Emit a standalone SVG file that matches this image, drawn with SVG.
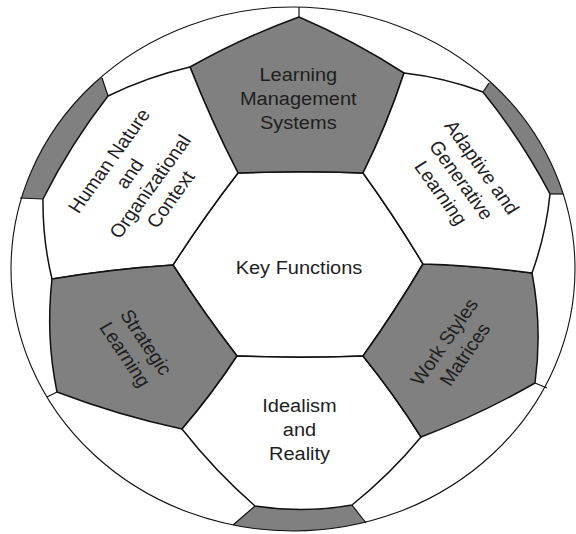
<svg xmlns="http://www.w3.org/2000/svg" width="576" height="534" viewBox="0 0 576 534">
  <style>
    .white { fill: #ffffff; stroke: #111111; stroke-width: 1.5; stroke-linejoin: round; }
    .grey { fill: #808080; stroke: #111111; stroke-width: 1.5; stroke-linejoin: round; }
    .band { fill: #808080; stroke: none; }
    .seam { fill: none; stroke: #111111; stroke-width: 1.2; }
    .rim { fill: none; stroke: #111111; stroke-width: 1.1; }
    .lbl { font-family: "Liberation Sans", Arial, Helvetica, sans-serif; font-size: 18.6px; fill: #1e1e1e; text-anchor: middle; }
  </style>
  <defs>
    <clipPath id="ball">
      <ellipse cx="293" cy="269" rx="282" ry="262"/>
    </clipPath>
  </defs>

  <!-- ball body -->
  <ellipse cx="293" cy="269" rx="282" ry="262" fill="#ffffff"/>

  <!-- outer panels cut by the rim -->
  <g id="outer-panels" clip-path="url(#ball)">
    <path class="band" d="M108,96 Q70.4,144.3 43,199 L-3,197 L94,54 Z"/>
    <path class="band" d="M483,92 Q521.5,139.7 550,194 L600,194 L600,100 L501,65 Z"/>
    <path class="band" d="M255,506 Q303.5,513.5 352,505 L382,544 L210,545 Z"/>
  </g>

  <!-- centre panel -->
  <g id="key-functions">
    <path class="white" d="M238,173 Q300.5,170.6 363,173 Q395,217.2 423,264 Q395,311.3 363,356 Q300,358.4 237,356 Q203,311.9 173,265 Q203.5,217.6 238,173 Z"/>
    <g transform="translate(299 0) scale(1.076 1)">
      <text class="lbl" x="0" y="274">Key Functions</text>
    </g>
  </g>

  <g id="learning-management-systems">
    <path class="grey" d="M238,173 Q300.5,170.6 363,173 Q387.2,124.5 404,73 Q353.9,40.6 299,17 Q242.4,37.5 190,67 Q211.3,121.2 238,173 Z"/>
    <g transform="translate(298.3 0) scale(1.076 1)">
      <text class="lbl"><tspan x="0" y="81">Learning</tspan><tspan x="0" y="105">Management</tspan><tspan x="0" y="129">Systems</tspan></text>
    </g>
  </g>

  <g id="human-nature">
    <path class="white" d="M238,173 Q211.3,121.2 190,67 Q147.3,76.8 108,96 Q70.4,144.3 43,199 Q42.5,239.6 52,279 Q112.2,269 173,265 Q203.5,217.6 238,173 Z"/>
    <g transform="translate(139.7 180) scale(1.076 1) rotate(-56)">
      <text class="lbl"><tspan x="0" y="-28">Human Nature</tspan><tspan x="0" y="-5">and</tspan><tspan x="0" y="18">Organizational</tspan><tspan x="0" y="41">Context</tspan></text>
    </g>
  </g>

  <g id="strategic-learning">
    <path class="grey" d="M173,265 Q112.2,269 52,279 Q45.5,336 57,392 Q118.1,415.3 182,429 Q211.9,394.3 237,356 Q203,311.9 173,265 Z"/>
    <g transform="translate(135.8 348.3) scale(1.076 1) rotate(58)">
      <text class="lbl"><tspan x="0" y="-5">Strategic</tspan><tspan x="0" y="18">Learning</tspan></text>
    </g>
  </g>

  <g id="idealism-reality">
    <path class="white" d="M237,356 Q211.9,394.3 182,429 Q214.9,470.9 255,506 Q303.5,513.5 352,505 Q390,474.6 421,437 Q394.4,394.8 363,356 Q300,358.4 237,356 Z"/>
    <g transform="translate(299.5 0) scale(1.076 1)">
      <text class="lbl"><tspan x="0" y="412">Idealism</tspan><tspan x="0" y="436">and</tspan><tspan x="0" y="460">Reality</tspan></text>
    </g>
  </g>

  <g id="work-styles-matrices">
    <path class="grey" d="M363,356 Q395,311.3 423,264 Q477.7,265.5 532,273 Q542.5,327.8 535,383 Q480.1,414.5 421,437 Q394.4,394.8 363,356 Z"/>
    <g transform="translate(454.5 348) scale(1.076 1) rotate(-57)">
      <text class="lbl"><tspan x="0" y="-5">Work Styles</tspan><tspan x="0" y="18">Matrices</tspan></text>
    </g>
  </g>

  <g id="adaptive-generative-learning">
    <path class="white" d="M363,173 Q387.2,124.5 404,73 Q444.7,77.6 483,92 Q521.5,139.7 550,194 Q545.9,234.6 532,273 Q477.7,265.5 423,264 Q395,217.2 363,173 Z"/>
    <g transform="translate(461.5 180) scale(1.076 1) rotate(56)">
      <text class="lbl"><tspan x="0" y="-16.5">Adaptive and</tspan><tspan x="0" y="6.5">Generative</tspan><tspan x="0" y="29.5">Learning</tspan></text>
    </g>
  </g>

  <!-- short seams running out to the rim -->
  <g id="seams">
    <path class="seam" d="M299,17 L299,7"/>
    <path class="seam" d="M108,96 L102,78"/>
    <path class="seam" d="M43,199 L20,198"/>
    <path class="seam" d="M57,392 L47,397"/>
    <path class="seam" d="M255,506 L233,525"/>
    <path class="seam" d="M352,505 L366,523"/>
    <path class="seam" d="M535,383 L547,388"/>
    <path class="seam" d="M550,194 L563,194"/>
    <path class="seam" d="M483,92 L489,83"/>
  </g>

  <!-- rim -->
  <ellipse class="rim" cx="293" cy="269" rx="282" ry="262"/>
</svg>
